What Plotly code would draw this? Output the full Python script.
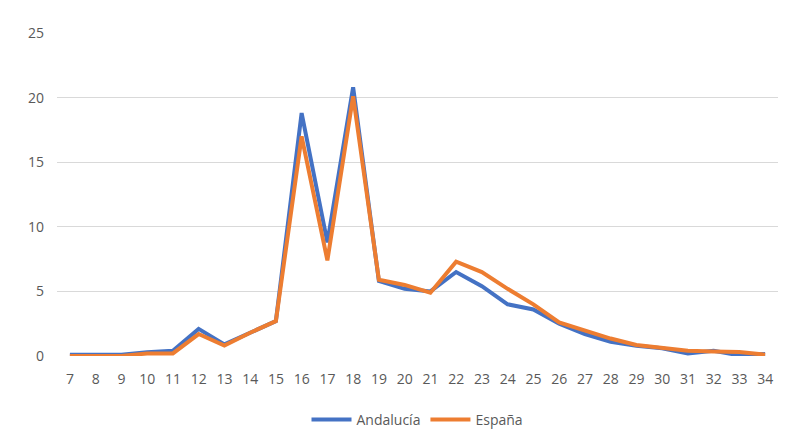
import plotly.graph_objects as go

# edad (años) en el eje x
edades = [str(e) for e in range(7, 35)]

andalucia = [0.1, 0.1, 0.1, 0.3, 0.4, 2.1, 0.9, 1.8, 2.7, 18.8, 8.8, 20.8, 5.8, 5.2,
             5.0, 6.5, 5.4, 4.0, 3.6, 2.5, 1.7, 1.1, 0.8, 0.6, 0.2, 0.4, 0.05, 0.15]
espana = [0.0, 0.0, 0.0, 0.2, 0.2, 1.7, 0.8, 1.8, 2.7, 17.0, 7.4, 20.1, 5.9, 5.5,
          4.9, 7.3, 6.5, 5.2, 4.0, 2.6, 1.95, 1.35, 0.85, 0.65, 0.4, 0.35, 0.3, 0.1]

y_ticks = [0, 5, 10, 15, 20, 25]

# la página añade 8px de margen, así que se compensa aquí
W, H = 795, 446
ml, mr, mt, mb = 49, 25, 25, 98
ph = H - mt - mb

fig = go.Figure()
fig.add_trace(go.Scatter(x=edades, y=andalucia, name='Andalucía', mode='lines',
                         line=dict(color='#4472C4', width=4)))
fig.add_trace(go.Scatter(x=edades, y=espana, name='España', mode='lines',
                         line=dict(color='#ED7D31', width=4)))

fig.update_layout(
    width=W, height=H,
    margin=dict(l=ml, r=mr, t=mt, b=mb),
    paper_bgcolor='white', plot_bgcolor='white',
    font=dict(family='Open Sans, Liberation Sans, sans-serif', size=14, color='#595959'),
    showlegend=True,
    legend=dict(orientation='h', x=0.5, xanchor='center', y=-64 / ph, yanchor='middle',
                font=dict(size=14, color='#595959'), itemwidth=40),
    xaxis=dict(type='category', range=[-0.5, len(edades) - 0.5], showgrid=False,
               zeroline=False, showline=False, ticks='',
               tickfont=dict(size=14, color='#595959'), ticklabelstandoff=13),
    yaxis=dict(range=[0, 25], tickvals=y_ticks, showgrid=True, gridcolor='#D9D9D9',
               gridwidth=1, zeroline=False, showline=False, ticks='',
               tickfont=dict(size=14, color='#595959'), ticklabelstandoff=12),
)

fig.write_html("out.html")
